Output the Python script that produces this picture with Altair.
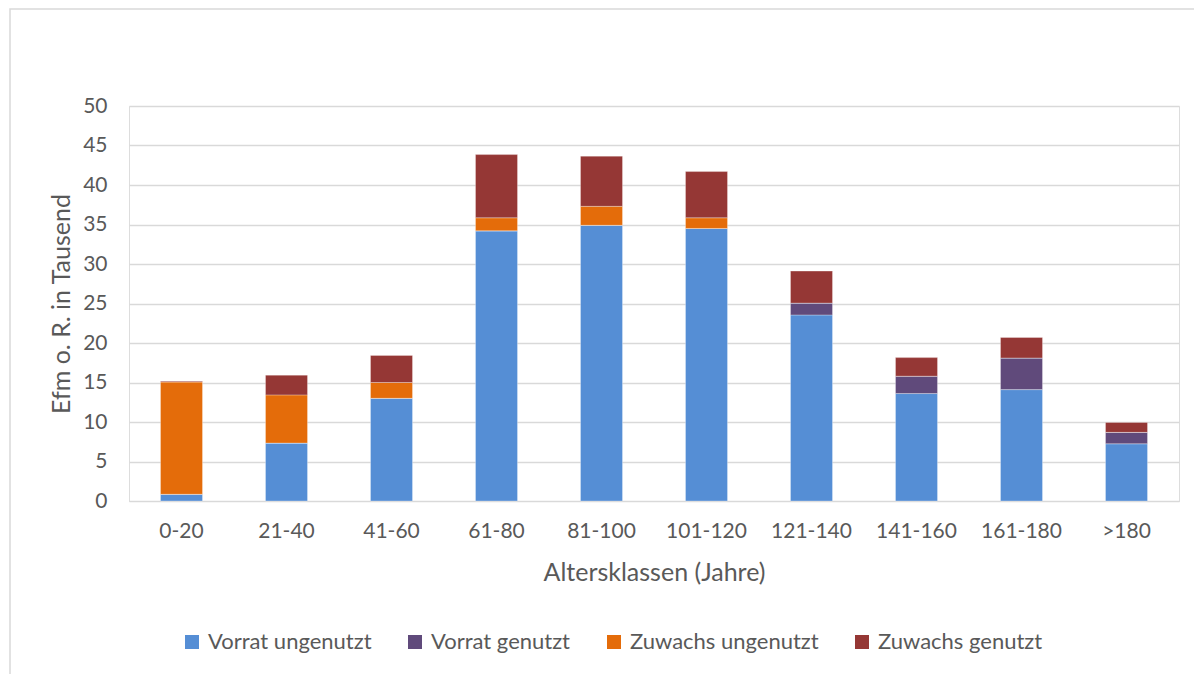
import altair as alt
import pandas as pd

categories = ["0-20", "21-40", "41-60", "61-80", "81-100", "101-120", "121-140", "141-160", "161-180", ">180"]
vorrat_ungenutzt = [0.85, 7.33, 13.0, 34.2, 34.9, 34.5, 23.55, 13.6, 14.1, 7.24]
vorrat_genutzt = [0.0, 0.0, 0.0, 0.0, 0.0, 0.0, 1.5, 2.2, 4.0, 1.45]
zuwachs_ungenutzt = [14.2, 6.1, 2.0, 1.65, 2.4, 1.35, 0.0, 0.0, 0.0, 0.0]
zuwachs_genutzt = [0.1, 2.5, 3.43, 8.0, 6.35, 5.85, 4.05, 2.35, 2.6, 1.25]

series_names = ["Vorrat ungenutzt", "Vorrat genutzt", "Zuwachs ungenutzt", "Zuwachs genutzt"]
series_colors = ["#558ED5", "#604A7B", "#E46C0A", "#953735"]
series_values = [vorrat_ungenutzt, vorrat_genutzt, zuwachs_ungenutzt, zuwachs_genutzt]

rows = []
for si, (name, vals) in enumerate(zip(series_names, series_values)):
    for cat, v in zip(categories, vals):
        rows.append({"Altersklasse": cat, "Serie": name, "Wert": v, "ord": si})
df = pd.DataFrame(rows)

FONT = "Lato"
GREY = "#595959"

bars = alt.Chart(df).mark_bar(stroke="white", strokeWidth=0.6, strokeOpacity=0.5).encode(
    x=alt.X("Altersklasse:N", sort=categories,
            scale=alt.Scale(paddingInner=0.6, paddingOuter=0.3),
            axis=alt.Axis(title="Altersklassen (Jahre)", labelAngle=0, ticks=False,
                          domain=True, domainColor="#d9d9d9", labelPadding=19,
                          titlePadding=19, labelFontSize=21, titleFontSize=25,
                          labelColor=GREY, titleColor=GREY, labelFont=FONT, titleFont=FONT,
                          titleFontWeight="normal")),
    y=alt.Y("Wert:Q", stack="zero",
            scale=alt.Scale(domain=[0, 50], nice=False),
            axis=alt.Axis(title="Efm o. R. in Tausend", values=list(range(0, 51, 5)),
                          ticks=False, domain=False, gridColor="#d9d9d9", gridWidth=1.3,
                          labelPadding=22, titlePadding=8, labelFontSize=21, titleFontSize=25,
                          labelColor=GREY, titleColor=GREY, labelFont=FONT, titleFont=FONT,
                          titleFontWeight="normal")),
    color=alt.Color("Serie:N",
                    scale=alt.Scale(domain=series_names, range=series_colors),
                    legend=alt.Legend(title=None, orient="none", direction="horizontal",
                                      legendX=52, legendY=525, symbolType="square",
                                      symbolSize=196, symbolStrokeWidth=0, labelFontSize=22,
                                      labelFont=FONT, labelColor=GREY, columnPadding=32,
                                      labelOffset=5, labelLimit=400)),
    order=alt.Order("ord:Q"),
)

frame = alt.Chart(pd.DataFrame({"a": [0]})).mark_rect(
    fill=None, stroke="#d9d9d9", strokeWidth=1.5
).encode(
    x=alt.value(-119), x2=alt.value(1300), y=alt.value(-97), y2=alt.value(700)
)

chart = alt.layer(frame, bars).properties(
    width=1050, height=395,
    autosize=alt.AutoSizeParams(type="none"),
    padding={"left": 121, "top": 98, "right": 15, "bottom": 175},
).configure_view(stroke=None).configure(background="white")

chart.save("out.html", embed_options={"renderer": "svg", "actions": False})
